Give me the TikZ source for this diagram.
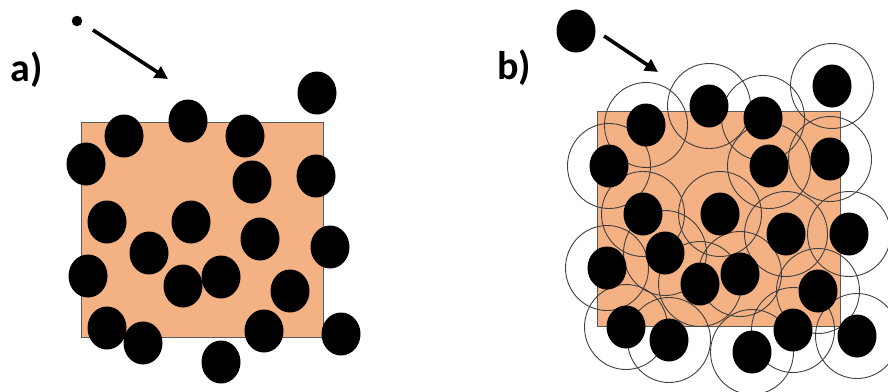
\documentclass[tikz,border=0pt]{standalone}
\usepackage{fontspec}
\setmainfont{Carlito}
\usetikzlibrary{shapes.geometric,arrows.meta}
\definecolor{slab}{HTML}{F4B183}
\definecolor{slabedge}{HTML}{595959}
\definecolor{ringgray}{HTML}{404040}
\tikzset{
  ball/.style={ellipse, fill=black, minimum width=39pt, minimum height=43pt, inner sep=0pt},
  tinyball/.style={circle, fill=black, minimum size=10.5pt, inner sep=0pt},
  ring/.style={ellipse, draw=ringgray, line width=0.9pt, minimum width=83pt, minimum height=85pt, inner sep=0pt},
  slabbox/.style={fill=slab, draw=slabedge, line width=1pt},
  flyarrow/.style={line width=3.6pt, -{Triangle[length=13pt,width=13pt]}},
  panellabel/.style={font=\bfseries\fontsize{40}{40}\selectfont, inner sep=0pt}
}
\begin{document}
\begin{tikzpicture}[x=1pt,y=-1pt]
\useasboundingbox (0,0) rectangle (888,391);
% ---------- panel a ----------
\node[panellabel] (la) at (27,70) {a)};
\node[slabbox, minimum width=242pt, minimum height=215pt, anchor=north west, inner sep=0pt] (sa) at (81,122) {};
\node[tinyball] (pa) at (77,21) {};
\coordinate (asrc) at (93,30);
\coordinate (adst) at (168,79);
\draw[flyarrow] (asrc) -- (adst);
\foreach \x/\y [count=\i] in {317/93,124/136,188/121,245/136,86/164,252/182,316/176,
  107/222,191/222,149/253,260/239,330/247,88/276,183/286,221/277,290/291,
  107/328,143/343,264/331,341/334,221/362}
  \node[ball] (a\i) at (\x,\y) {};
% ---------- panel b ----------
\node[panellabel] (lb) at (514,68) {b)};
\node[slabbox, minimum width=243pt, minimum height=215pt, anchor=north west, inner sep=0pt] (sb) at (597,111) {};
\node[ball] (pb) at (576,31) {};
\coordinate (bsrc) at (604,36);
\coordinate (bdst) at (658,72);
\draw[flyarrow] (bsrc) -- (bdst);
\def\bpts{709/106,646/125,763/118,832/86,609/166,769/166,830/159,
  643/214,720/214,786/234,849/234,607/268,665/253,700/284,740/274,818/291,
  626/327,669/340,752/352,793/330,857/336}
\foreach \x/\y [count=\i] in \bpts
  \node[ring] (r\i) at (\x,\y) {};
\foreach \x/\y [count=\i] in \bpts
  \node[ball] (b\i) at (\x,\y) {};
\end{tikzpicture}
\end{document}
